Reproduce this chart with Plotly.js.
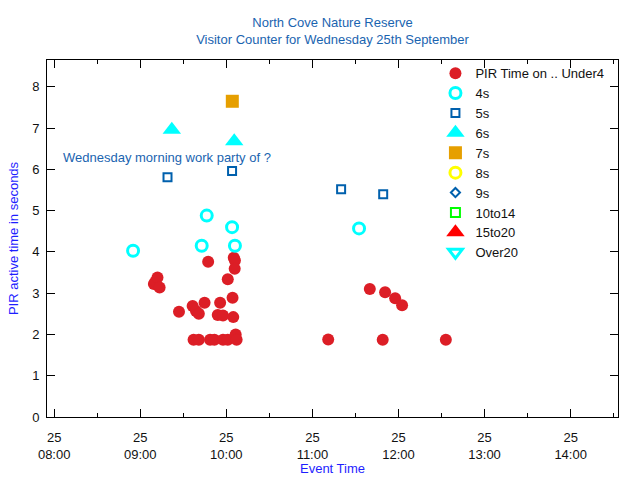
<!DOCTYPE html>
<html>
<head>
<meta charset="utf-8">
<script src="https://cdn.plot.ly/plotly-3.0.1.min.js"></script>
<style>html,body{margin:0;padding:0;background:#fff}#chart{width:640px;height:480px}</style>
</head>
<body>
<div id="chart"></div>
<script>
// ---- data ----
var day = "2019-09-25 ";

var under4Times = ["09:09:30","09:10:30","09:12:00","09:13:30","09:27:00","09:36:30","09:38:50","09:40:50","09:44:50","09:47:20",
                   "09:54:00","09:55:40","09:57:40","10:01:00","10:04:20","10:04:50","10:05:10","10:06:00","10:05:50",
                   "09:37:10","09:40:50","09:48:40","09:51:40","09:57:40","10:01:00","10:06:30","10:07:10",
                   "11:40:00","11:50:40","11:57:40","12:02:30","11:11:00","11:49:00","12:33:00"];
var under4Values = [3.22,3.28,3.38,3.14,2.55,2.69,2.57,2.50,2.77,3.76,
                    2.47,2.77,2.46,3.34,2.89,2.42,3.86,3.79,3.59,
                    1.87,1.87,1.87,1.87,1.87,1.87,2.00,1.87,
                    3.10,3.02,2.88,2.71,1.88,1.87,1.87];

var s4Times  = ["08:55:00","09:46:20","09:42:50","10:04:00","10:06:00","11:32:30"];
var s4Values = [4.03,4.88,4.15,4.60,4.15,4.57];

var s5Times  = ["09:19:00","10:04:00","11:20:00","11:49:20"];
var s5Values = [5.81,5.96,5.52,5.40];

var s6Times  = ["09:22:00","10:05:30"];
var s6Values = [6.96,6.68];

var s7Times  = ["10:04:10"];
var s7Values = [7.65];

// categories with no readings on this day (legend only)
var emptyTimes = [null];
var emptyValues = [null];

var seriesNames = ["PIR Time on .. Under4","4s","5s","6s","7s","8s","9s","10to14","15to20","Over20"];

var hourTicks = ["08:00","09:00","10:00","11:00","12:00","13:00","14:00"];
var tickDay = "25";

var noteText = "Wednesday morning work party of ?";
var noteTime = "08:04:40";
var noteValue = 6.28;

function stamp(arr){ return arr.map(function(t){ return t === null ? null : day + t; }); }

// ---- traces ----
var traces = [
  {name: seriesNames[0], x: stamp(under4Times), y: under4Values, type:"scatter", mode:"markers",
   marker:{symbol:"circle", size:12, color:"#dc1e26"}},
  {name: seriesNames[1], x: stamp(s4Times), y: s4Values, type:"scatter", mode:"markers",
   marker:{symbol:"circle-open", size:11, color:"#00ffff", line:{width:3, color:"#00ffff"}}},
  {name: seriesNames[2], x: stamp(s5Times), y: s5Values, type:"scatter", mode:"markers",
   marker:{symbol:"square-open", size:8, color:"#0060ad", line:{width:2, color:"#0060ad"}}},
  {name: seriesNames[3], x: stamp(s6Times), y: s6Values, type:"scatter", mode:"markers",
   marker:{symbol:"triangle-up", size:16, color:"#00ffff"}},
  {name: seriesNames[4], x: stamp(s7Times), y: s7Values, type:"scatter", mode:"markers",
   marker:{symbol:"square", size:13, color:"#e69f00"}},
  {name: seriesNames[5], x: stamp(emptyTimes), y: emptyValues, type:"scatter", mode:"markers",
   marker:{symbol:"circle-open", size:11, color:"#ffff00", line:{width:3, color:"#ffff00"}}},
  {name: seriesNames[6], x: stamp(emptyTimes), y: emptyValues, type:"scatter", mode:"markers",
   marker:{symbol:"diamond-open", size:7, color:"#0060ad", line:{width:2, color:"#0060ad"}}},
  {name: seriesNames[7], x: stamp(emptyTimes), y: emptyValues, type:"scatter", mode:"markers",
   marker:{symbol:"square-open", size:9, color:"#00ff00", line:{width:2, color:"#00ff00"}}},
  {name: seriesNames[8], x: stamp(emptyTimes), y: emptyValues, type:"scatter", mode:"markers",
   marker:{symbol:"triangle-up", size:16, color:"#ff0000"}},
  {name: seriesNames[9], x: stamp(emptyTimes), y: emptyValues, type:"scatter", mode:"markers",
   marker:{symbol:"triangle-down-open", size:12, color:"#00ffff", line:{width:3, color:"#00ffff"}}}
];

var FONT = "Liberation Sans, Arial, sans-serif";

var layout = {
  width: 640, height: 480,
  margin: {l:47, r:22, t:60, b:63, pad:0},
  paper_bgcolor: "#ffffff", plot_bgcolor: "#ffffff",
  font: {family: FONT, size: 13, color: "#111111"},
  title: {
    text: "North Cove Nature Reserve<br>Visitor Counter for Wednesday 25th September",
    font: {family: FONT, size: 13, color: "#1a64b0"},
    x: 0.5, xanchor: "center", xref: "paper",
    y: 0.944, yanchor: "middle", yref: "container"
  },
  showlegend: true,
  legend: {
    x: 0.985, xanchor: "right", y: 1.005, yanchor: "top",
    bgcolor: "rgba(0,0,0,0)", borderwidth: 0,
    font: {family: FONT, size: 13, color: "#111111"},
    tracegroupgap: 0, itemsizing: "trace"
  },
  xaxis: {
    type: "date",
    range: [day + "07:55:00", day + "14:33:00"],
    tickmode: "array",
    tickvals: stamp(hourTicks.map(function(h){return h + ":00";})),
    ticktext: hourTicks.map(function(h){ return tickDay + "<br>" + h; }),
    ticks: "inside", ticklen: 8, tickwidth: 1, tickcolor: "#000",
    minor: {tickmode: "linear", dtick: 1800000, tick0: day + "08:00:00", ticks: "inside", ticklen: 4, tickcolor: "#000", showgrid: false},
    showline: true, linecolor: "#000", linewidth: 1, mirror: "ticks",
    showgrid: false, zeroline: false,
    ticklabelstandoff: 8,
    tickfont: {family: FONT, size: 13, color: "#111111"},
    title: {text: "Event Time", font: {family: FONT, size: 13, color: "#1e1eff"}, standoff: 3}
  },
  yaxis: {
    range: [0, 8.65],
    tickmode: "linear", tick0: 0, dtick: 1,
    ticks: "inside", ticklen: 8, tickwidth: 1, tickcolor: "#000",
    showline: true, linecolor: "#000", linewidth: 1, mirror: "ticks",
    showgrid: false, zeroline: false,
    ticklabelstandoff: 4,
    tickfont: {family: FONT, size: 13, color: "#111111"},
    title: {text: "PIR active time in seconds", font: {family: FONT, size: 13, color: "#1e1eff"}, standoff: 10}
  },
  annotations: [{
    text: noteText, x: day + noteTime, y: noteValue, xref: "x", yref: "y",
    xanchor: "left", yanchor: "middle", showarrow: false,
    font: {family: FONT, size: 13, color: "#1a64b0"}
  }]
};

Plotly.newPlot("chart", traces, layout, {displayModeBar: false, staticPlot: true});
</script>
</body>
</html>
